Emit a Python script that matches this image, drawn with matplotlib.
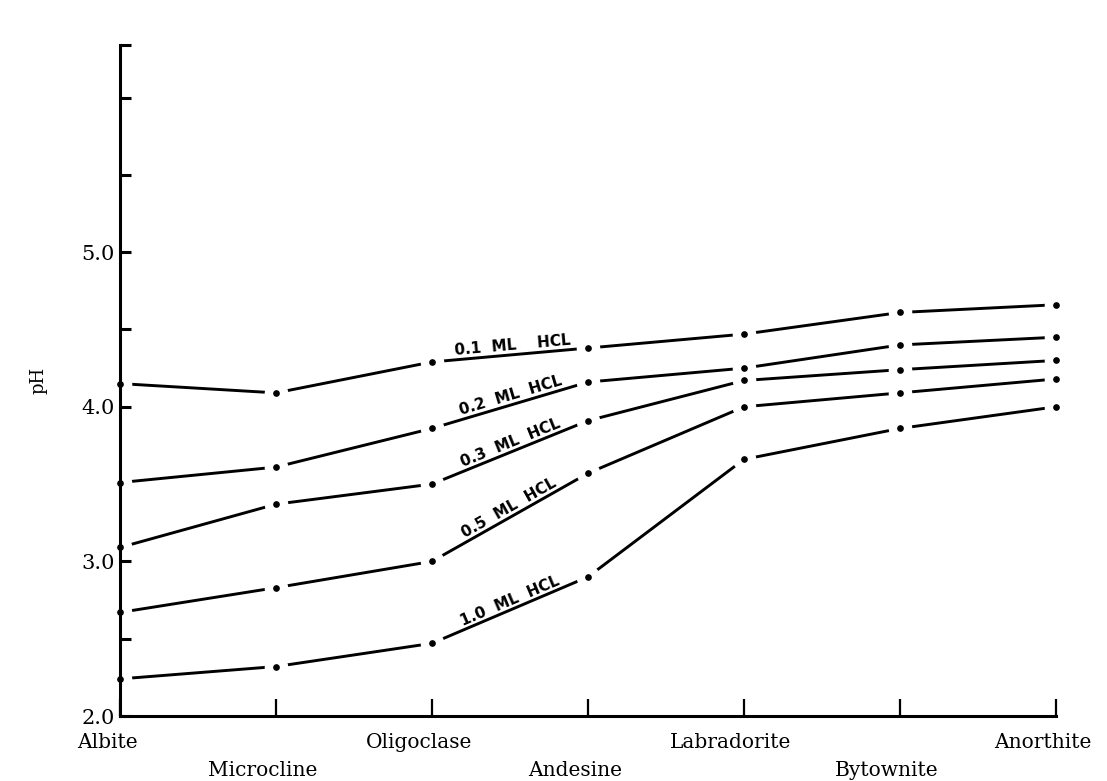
import numpy as np
import matplotlib
matplotlib.use('Agg')
import matplotlib.pyplot as plt
import matplotlib.transforms as mtransforms

minerals = ['Albite', 'Microcline', 'Oligoclase', 'Andesine',
            'Labradorite', 'Bytownite', 'Anorthite']

ph_01 = [4.15, 4.09, 4.29, 4.38, 4.47, 4.61, 4.66]
ph_02 = [3.51, 3.61, 3.86, 4.16, 4.25, 4.40, 4.45]
ph_03 = [3.09, 3.37, 3.50, 3.91, 4.17, 4.24, 4.30]
ph_05 = [2.67, 2.83, 3.00, 3.57, 4.00, 4.09, 4.18]
ph_10 = [2.24, 2.32, 2.47, 2.90, 3.66, 3.86, 4.00]

series = [('0.1  ML    HCL', ph_01), ('0.2  ML  HCL', ph_02), ('0.3  ML  HCL', ph_03),
          ('0.5  ML  HCL', ph_05), ('1.0  ML  HCL', ph_10)]

x = np.arange(len(minerals))

fig = plt.figure(figsize=(11.07, 7.81), dpi=100)
W, H = 1107, 781
ax = fig.add_axes([120 / W, (H - 716) / H, (1056 - 120) / W, (716 - 45) / H])

for label, vals in series:
    # line, then a white disc at each reading to open a gap, then the dot
    ax.plot(x, vals, color='k', lw=2.1, solid_capstyle='butt', zorder=2)
    ax.plot(x, vals, ls='none', marker='o', ms=17, mfc='white', mec='none',
            zorder=3, clip_on=False)
    ax.plot(x, vals, ls='none', marker='o', ms=3.8, color='k', zorder=4,
            clip_on=False)
    # label sits on the Oligoclase-Andesine segment
    x0, x1 = x[2], x[3]
    y0, y1 = vals[2], vals[3]
    ang = np.degrees(np.arctan2(y1 - y0, x1 - x0))
    ax.text((x0 + x1) / 2 + 0.02, (y0 + y1) / 2 + 0.015, label, rotation=ang,
            transform_rotates_text=True, rotation_mode='anchor',
            ha='center', va='bottom', fontsize=11, fontweight='bold',
            family='DejaVu Sans', zorder=6)

ax.set_xlim(0, 6)
ax.set_ylim(2.0, 6.34)

for s in ['top', 'right']:
    ax.spines[s].set_visible(False)
for s in ['left', 'bottom']:
    ax.spines[s].set_linewidth(2.2)
    ax.spines[s].set_zorder(5)

ax.set_xticks(x)
ax.set_xticklabels([])
ax.tick_params(axis='x', direction='in', length=12, width=1.6)

ax.set_yticks([2.0, 3.0, 4.0, 5.0])
ax.set_yticklabels(['2.0', '3.0', '4.0', '5.0'], family='DejaVu Serif', fontsize=15)
ax.set_yticks([2.5, 3.5, 4.5, 5.5, 6.0, 6.34], minor=True)
ax.tick_params(axis='y', which='both', direction='in', length=8, width=2.2, pad=4)

# mineral names, staggered on two rows
offset = mtransforms.ScaledTranslation(-13 / 100, 0, fig.dpi_scale_trans)
for i, name in enumerate(minerals):
    ypix = 742 if i % 2 == 0 else 771
    ax.text(x[i], -(ypix - 716) / (716 - 45), name,
            transform=mtransforms.blended_transform_factory(ax.transData, ax.transAxes) + offset,
            ha='center', va='center', fontsize=14.5, family='DejaVu Serif')

ax.set_ylabel('pH', family='DejaVu Serif', fontsize=13, labelpad=24)

fig.savefig('out.png', dpi=100)
